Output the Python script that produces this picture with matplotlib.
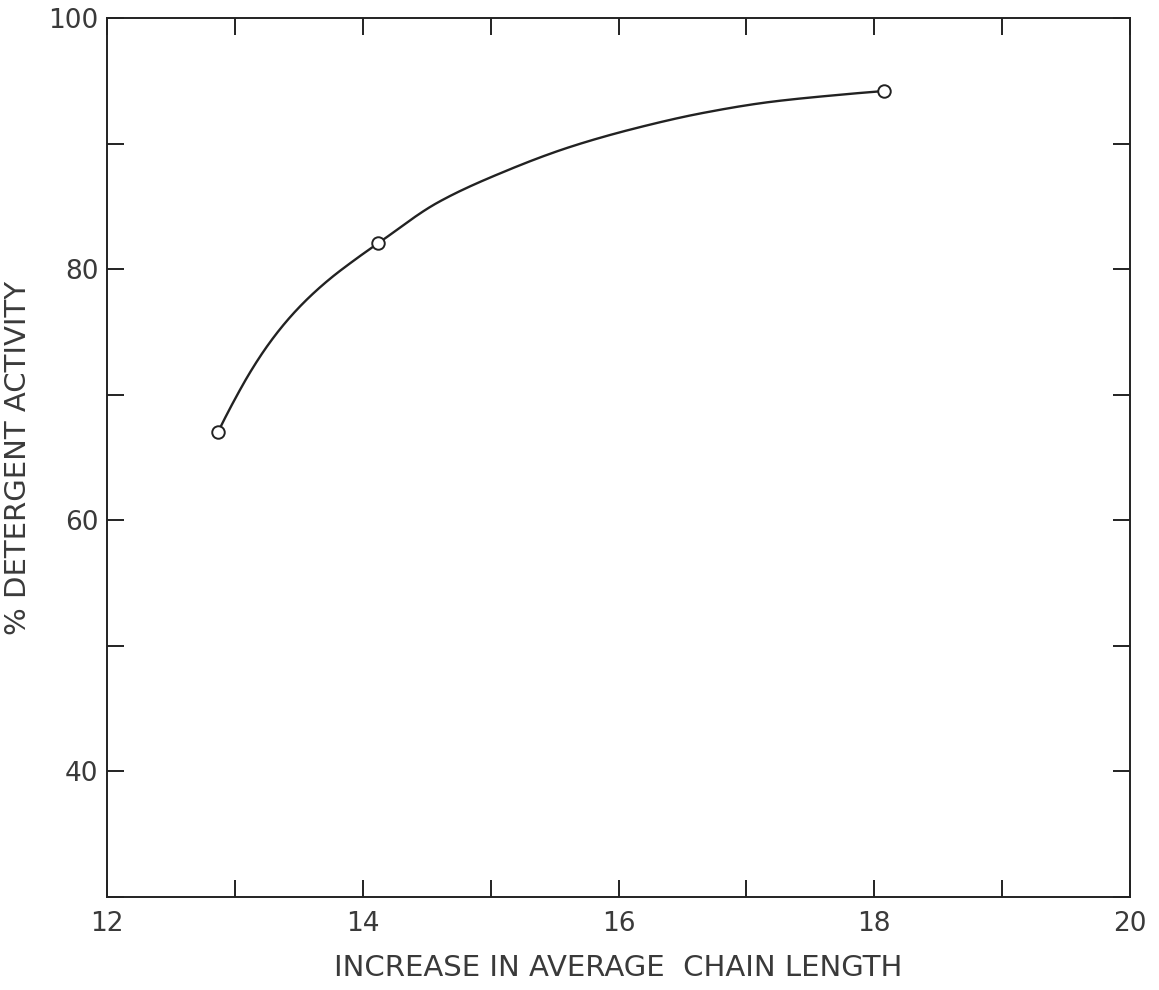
import numpy as np
import matplotlib
matplotlib.use("Agg")
import matplotlib.pyplot as plt
from matplotlib.ticker import MultipleLocator, FixedLocator

# measured data points
x_pts = [12.87, 14.12, 18.08]
y_pts = [67.07, 82.06, 94.19]

# points
curve_x = [12.87, 12.99, 13.12, 13.25, 13.38, 13.51, 13.64, 13.77, 13.90, 14.03, 14.12,
           14.58, 15.10, 15.62, 16.14, 16.66, 17.18, 17.71, 18.08]
curve_y = [67.07, 69.45, 71.80, 73.83, 75.56, 77.04, 78.32, 79.45, 80.46, 81.42, 82.06,
           85.27, 87.74, 89.73, 91.24, 92.44, 93.31, 93.87, 94.19]

x_labels = [12, 14, 16, 18, 20]
y_labels = [40, 60, 80, 100]


def smooth_line(xs, ys, n=30):
    """Shape-preserving cubic Hermite rendering through the read points (drawing only)."""
    x = np.asarray(xs, float)
    y = np.asarray(ys, float)
    h = np.diff(x)
    d = np.diff(y) / h
    m = np.zeros_like(x)
    for k in range(1, len(x) - 1):
        if d[k - 1] * d[k] > 0:
            w1 = 2 * h[k] + h[k - 1]
            w2 = h[k] + 2 * h[k - 1]
            m[k] = (w1 + w2) / (w1 / d[k - 1] + w2 / d[k])
    m[0] = ((2 * h[0] + h[1]) * d[0] - h[0] * d[1]) / (h[0] + h[1])
    m[-1] = ((2 * h[-1] + h[-2]) * d[-1] - h[-1] * d[-2]) / (h[-1] + h[-2])
    X, Y = [], []
    for k in range(len(x) - 1):
        t = np.linspace(0, 1, n, endpoint=False)
        h00 = 2 * t ** 3 - 3 * t ** 2 + 1
        h10 = t ** 3 - 2 * t ** 2 + t
        h01 = -2 * t ** 3 + 3 * t ** 2
        h11 = t ** 3 - t ** 2
        X.append(x[k] + t * h[k])
        Y.append(h00 * y[k] + h10 * h[k] * m[k] + h01 * y[k + 1] + h11 * h[k] * m[k + 1])
    X.append([x[-1]])
    Y.append([y[-1]])
    return np.concatenate(X), np.concatenate(Y)


col = "#222222"
txt = "#3a3a3a"
plt.rcParams['font.family'] = ['DejaVu Sans']

fig = plt.figure(figsize=(11.59, 9.90), dpi=100)
ax = fig.add_axes([0.0923, 0.0939, 0.8827, 0.8879])

sx, sy = smooth_line(curve_x, curve_y)
ax.plot(sx, sy, color=col, lw=1.7, zorder=2)
ax.plot(x_pts, y_pts, 'o', mfc='white', mec=col, mew=1.4, ms=9, zorder=3)

ax.set_xlim(12, 20)
ax.set_ylim(30, 100)
ax.xaxis.set_major_locator(FixedLocator(x_labels))
ax.xaxis.set_minor_locator(MultipleLocator(1))
ax.yaxis.set_major_locator(FixedLocator(y_labels))
ax.yaxis.set_minor_locator(MultipleLocator(10))

for which in ('major', 'minor'):
    ax.tick_params(axis='both', which=which, direction='in', length=12, width=1.4,
                   color=col, top=True, right=True)
ax.tick_params(axis='x', which='major', labelsize=19, labelcolor=txt, pad=10)
ax.tick_params(axis='y', which='major', labelsize=19, labelcolor=txt, pad=6)
for t in ax.xaxis.get_major_ticks():
    if t.get_loc() in (12, 20):
        t.tick1line.set_visible(False)
        t.tick2line.set_visible(False)
for t in ax.yaxis.get_major_ticks():
    if t.get_loc() == 100:
        t.tick1line.set_visible(False)
        t.tick2line.set_visible(False)

for s in ax.spines.values():
    s.set_linewidth(1.4)
    s.set_color(col)

ax.set_xlabel("INCREASE IN AVERAGE  CHAIN LENGTH", fontsize=21, color=txt, labelpad=12)
ax.set_ylabel("% DETERGENT ACTIVITY", fontsize=21, color=txt, labelpad=12)

fig.savefig("out.png", dpi=100, facecolor='white')
